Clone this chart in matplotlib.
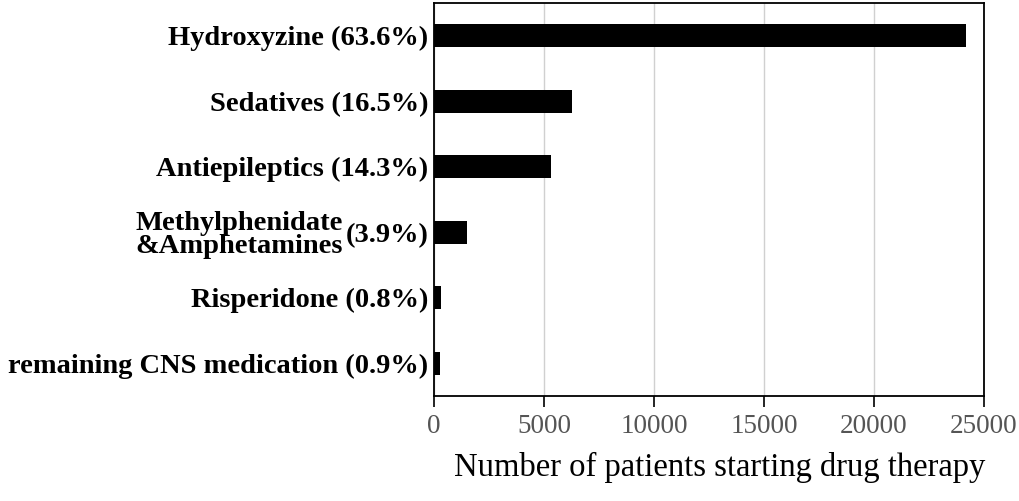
import matplotlib
matplotlib.use("Agg")
import matplotlib.pyplot as plt

categories = ["Hydroxyzine", "Sedatives", "Antiepileptics",
              "Methylphenidate\n&Amphetamines", "Risperidone", "remaining CNS medication"]
percents = ["(63.6%)", "(16.5%)", "(14.3%)", "(3.9%)", "(0.8%)", "(0.9%)"]
values = [24200, 6250, 5330, 1480, 330, 270]
xticks = [0, 5000, 10000, 15000, 20000, 25000]

plt.rcParams['font.family'] = ['Liberation Serif', 'DejaVu Serif']

fig = plt.figure(figsize=(10.19, 5.01), dpi=100)
ax = fig.add_axes([434/1019, 1-396/501, (984-434)/1019, (396-3)/501])

ypos = list(range(len(categories)))
ax.barh(ypos, values, height=0.35, color='black', zorder=3)
ax.set_ylim(len(categories)-0.5, -0.5)
ax.set_xlim(0, 25000)
ax.set_xticks(xticks)
ax.set_xticklabels([str(t) for t in xticks], color='#555555', fontsize=19.5)
ax.tick_params(axis='x', length=8, width=1.2, direction='out', pad=5)
ax.tick_params(axis='y', length=0, pad=4)
ax.xaxis.grid(True, color='#d0d0d0', linewidth=1.0, zorder=0)
ax.set_axisbelow(True)
for s in ax.spines.values():
    s.set_linewidth(1.3)
    s.set_color('black')

labels = []
for c, p in zip(categories, percents):
    if "\n" in c:
        labels.append(p)
    else:
        labels.append(f"{c} {p}")
ax.set_yticks(ypos)
ax.set_yticklabels(labels, fontsize=20.5, fontweight='bold')
ax.set_xlabel("Number of patients starting drug therapy", fontsize=23.5)
ax.xaxis.set_label_coords(0.52, -0.142)

fig.canvas.draw()
renderer = fig.canvas.get_renderer()
for i, c in enumerate(categories):
    if "\n" in c:
        tl = ax.get_yticklabels()[i]
        bb = tl.get_window_extent(renderer)
        x_pix = bb.x0 - 3
        y_pix = (bb.y0 + bb.y1) / 2
        fig.text(x_pix/fig.bbox.width, y_pix/fig.bbox.height, c,
                 ha='right', va='center', fontsize=20.5, fontweight='bold',
                 linespacing=0.9, multialignment='center')

fig.savefig("out.png", dpi=100)
